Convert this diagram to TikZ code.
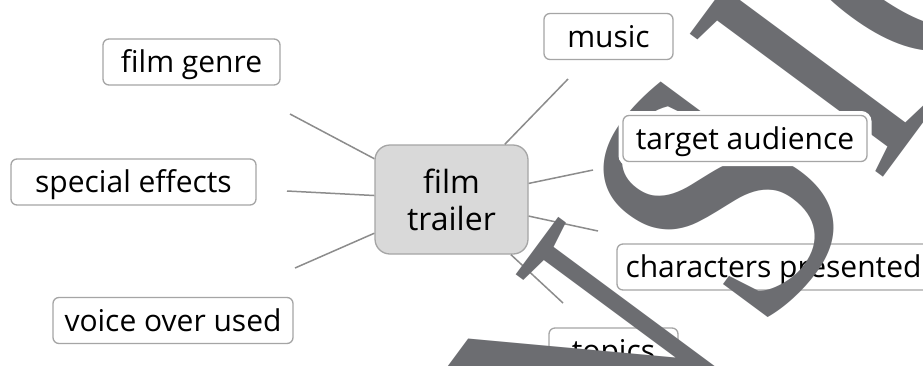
\documentclass[tikz,border=0pt]{standalone}
\usepackage{fontspec}
\setmainfont{Open Sans}
\newfontfamily\wmfont[FakeStretch=0.874]{Liberation Serif}
\definecolor{boxline}{RGB}{165,165,165}
\definecolor{linkcol}{RGB}{140,140,140}
\definecolor{hubfill}{RGB}{217,217,217}
\definecolor{wmgray}{RGB}{108,109,113}
\begin{document}
\begin{tikzpicture}[x=1pt,y=-1pt,
  leaf/.style={draw=boxline, line width=1.3pt, rounded corners=6pt, fill=white,
    inner xsep=0pt, inner ysep=0pt, minimum height=46pt, text height=24pt, text depth=3pt,
    font=\fontsize{30}{36}\selectfont},
  halo/.style={preaction={draw=white, line width=9pt}},
  hub/.style={draw=boxline, fill=hubfill, line width=1.3pt, rounded corners=15pt,
    minimum width=153pt, minimum height=109pt, align=center,
    font=\fontsize{32}{37}\selectfont},
  link/.style={draw=linkcol, line width=1.5pt},
  wm/.style={text=wmgray, inner sep=0pt, anchor=base west, rotate=53.5,
    font=\wmfont\fontsize{367}{367}\selectfont}]
\useasboundingbox (0,0) rectangle (923,365);
\clip (0,0) rectangle (923,365);
\fill[white] (0,0) rectangle (923,365);
\node[hub] (hub) at (451.5,199.5) {film\\trailer};
\node[leaf, minimum width=177pt] (genre) at (191.5,62) {film genre};
\node[leaf, minimum width=245pt] (effects) at (133.5,182) {special effects};
\node[leaf, minimum width=240pt] (voice) at (173,320.5) {voice over used};
\node[leaf, minimum width=129pt] (music) at (608.5,36.5) {music};
\node[leaf, minimum width=313pt] (chars) at (773.5,267) {characters presented};
\node[leaf, minimum width=129pt] (topics) at (613.5,351) {topics};
\coordinate (eg) at (290,114);
\coordinate (ee) at (287,191);
\coordinate (ev) at (295,268);
\coordinate (em) at (568,79);
\coordinate (et) at (593,170);
\coordinate (ec) at (598,231);
\coordinate (ep) at (563,303);
\draw[link] (eg) -- (hub);
\draw[link] (ee) -- (hub);
\draw[link] (ev) -- (hub);
\draw[link] (em) -- (hub);
\draw[link] (et) -- (hub);
\draw[link] (ec) -- (hub);
\draw[link] (ep) -- (hub);
\node[wm] (wmN) at (618,541) {N};
\node[wm] (wmS) at (762.1,340.6) {S};
\node[wm] (wmI) at (876.0,186.6) {I};
\node[wm] (wmO) at (940.3,99.8) {O};
\node[leaf, halo, minimum width=244pt] (target) at (745,138.5) {target audience};
\end{tikzpicture}
\end{document}
